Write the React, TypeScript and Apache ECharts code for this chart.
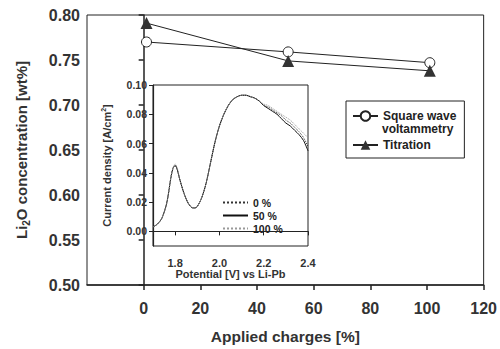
import React, { useEffect, useRef } from "react";
import * as echarts from "echarts";

// Main chart data
const charges = [1, 51, 101];
const squareWave = [0.770, 0.759, 0.747];
const titration = [0.791, 0.749, 0.738];
const mainXTicks = [0, 20, 40, 60, 80, 100, 120];

// Inset data (square wave voltammogram)
const potential = [1.70, 1.72, 1.74, 1.76, 1.77, 1.78, 1.79, 1.80, 1.81, 1.82, 1.84, 1.86, 1.88, 1.89, 1.90, 1.92, 1.94, 1.96, 1.98, 2.00, 2.02, 2.04, 2.06, 2.08, 2.10, 2.12, 2.14, 2.16, 2.18, 2.20, 2.22, 2.24, 2.26, 2.28, 2.30, 2.32, 2.34, 2.36, 2.38, 2.40];
const current0 = [0.003, 0.005, 0.009, 0.018, 0.026, 0.036, 0.043, 0.045, 0.042, 0.036, 0.026, 0.019, 0.016, 0.016, 0.017, 0.023, 0.033, 0.047, 0.061, 0.072, 0.080, 0.086, 0.090, 0.092, 0.093, 0.093, 0.092, 0.091, 0.089, 0.086, 0.085, 0.083, 0.081, 0.079, 0.076, 0.074, 0.071, 0.068, 0.064, 0.058];
const current50 = [0.003, 0.005, 0.009, 0.018, 0.026, 0.036, 0.043, 0.045, 0.042, 0.036, 0.026, 0.019, 0.016, 0.016, 0.017, 0.023, 0.033, 0.047, 0.061, 0.072, 0.080, 0.086, 0.090, 0.092, 0.093, 0.093, 0.092, 0.091, 0.089, 0.086, 0.084, 0.082, 0.080, 0.077, 0.074, 0.072, 0.069, 0.066, 0.062, 0.055];
const current100 = [0.003, 0.005, 0.009, 0.018, 0.026, 0.036, 0.043, 0.046, 0.043, 0.036, 0.026, 0.019, 0.016, 0.016, 0.017, 0.023, 0.033, 0.047, 0.061, 0.072, 0.080, 0.086, 0.090, 0.092, 0.093, 0.093, 0.092, 0.091, 0.089, 0.087, 0.086, 0.084, 0.082, 0.080, 0.078, 0.076, 0.073, 0.070, 0.067, 0.064];
const insetXTicks = [1.8, 2.0, 2.2, 2.4];
const insetYTicks = [0.0, 0.02, 0.04, 0.06, 0.08, 0.10];

const FONT = "'Liberation Sans', Arial, sans-serif";
const INK = "#222";

export default function App() {
  const ref = useRef<HTMLDivElement>(null);
  useEffect(() => {
    if (!ref.current) return;
    const chart = echarts.init(ref.current, undefined, { renderer: "svg" });
    const zip = (ys: number[]) => potential.map((x, i) => [x, ys[i]]);
    const option: any = {
      animation: false,
      backgroundColor: "#fff",
      textStyle: { fontFamily: FONT },
      grid: [
        { left: 87, right: 13, top: 15, bottom: 61, show: true, borderColor: INK, borderWidth: 1 },
        { left: 153, right: 192, top: 85, bottom: 103, show: true, borderColor: INK, borderWidth: 1, backgroundColor: "#fff" },
      ],
      xAxis: [
        {
          type: "value", gridIndex: 0, min: -20, max: 120, interval: 20,
          axisLine: { lineStyle: { color: INK, width: 1.5 } },
          axisTick: { show: true, length: 5, customValues: mainXTicks, lineStyle: { color: INK, width: 1.5 } },
          splitLine: { show: false },
          axisLabel: { customValues: mainXTicks, fontSize: 16, fontWeight: "bold", color: "#333", margin: 15, fontFamily: FONT },
          name: "Applied charges [%]", nameLocation: "middle", nameGap: 43,
          nameTextStyle: { fontSize: 15.5, fontWeight: "bold", color: "#333", fontFamily: FONT },
        },
        {
          type: "value", gridIndex: 1, min: 1.7, max: 2.4,
          axisLine: { lineStyle: { color: INK, width: 1.2 } },
          axisTick: { show: true, length: 4, customValues: insetXTicks, lineStyle: { color: INK } },
          splitLine: { show: false },
          axisLabel: { customValues: insetXTicks, formatter: (v: number) => v.toFixed(1), fontSize: 11, fontWeight: "bold", color: "#333", margin: 11, fontFamily: FONT },
          name: "Potential [V] vs Li-Pb", nameLocation: "middle", nameGap: 22,
          nameTextStyle: { fontSize: 11, fontWeight: "bold", color: "#333", fontFamily: FONT },
        },
      ],
      yAxis: [
        {
          type: "value", gridIndex: 0, min: 0.5, max: 0.8, interval: 0.05,
          axisLine: { show: true, lineStyle: { color: INK, width: 1.5 } },
          axisTick: { show: true, length: 5, lineStyle: { color: INK, width: 1.5 } },
          splitLine: { show: false },
          axisLabel: { formatter: (v: number) => v.toFixed(2), fontSize: 16, fontWeight: "bold", color: "#333", margin: 7, fontFamily: FONT },
          name: "{a|Li}{sub|2}{a|O concentration [wt%]}", nameLocation: "middle", nameGap: 56,
          nameTextStyle: {
            color: "#333",
            rich: {
              a: { fontSize: 15, fontWeight: "bold", color: "#333", lineHeight: 20, verticalAlign: "middle", fontFamily: FONT },
              sub: { fontSize: 10, fontWeight: "bold", color: "#333", lineHeight: 10, verticalAlign: "bottom", fontFamily: FONT },
            },
          },
        },
        {
          type: "value", gridIndex: 1, min: -0.01, max: 0.1,
          axisLine: { show: true, lineStyle: { color: INK, width: 1.2 } },
          axisTick: { show: true, length: 4, customValues: insetYTicks, lineStyle: { color: INK } },
          splitLine: { show: false },
          axisLabel: { customValues: insetYTicks, formatter: (v: number) => v.toFixed(2), fontSize: 10.5, fontWeight: "bold", color: "#333", margin: 6, fontFamily: FONT },
          name: "{a|Current density [A/cm}{sup|2}{a|]}", nameLocation: "middle", nameGap: 39,
          nameTextStyle: {
            color: "#333",
            rich: {
              a: { fontSize: 11, fontWeight: "bold", color: "#333", lineHeight: 14, verticalAlign: "middle", fontFamily: FONT },
              sup: { fontSize: 7, fontWeight: "bold", color: "#333", lineHeight: 7, verticalAlign: "top", fontFamily: FONT },
            },
          },
        },
      ],
      legend: [
        {
          data: ["Square wave", "Titration"], orient: "vertical", left: 346, top: 101,
          padding: [9, 8, 7, 6], itemWidth: 25, itemHeight: 12, itemGap: 17,
          borderColor: INK, borderWidth: 1, backgroundColor: "#fff",
          textStyle: { fontSize: 12, fontWeight: "bold", color: "#222", fontFamily: FONT },
        },
        {
          data: ["0 %", "50 %", "100 %"], orient: "vertical", left: 222, top: 197,
          padding: 0, itemWidth: 25, itemHeight: 10, itemGap: 2,
          itemStyle: { opacity: 0 },
          textStyle: { fontSize: 10.5, fontWeight: "bold", color: "#222", fontFamily: FONT },
        },
      ],
      graphic: [
        { type: "text", left: 382, top: 123, z: 100, style: { text: "voltammetry", fontSize: 12, fontWeight: "bold", fill: "#222", fontFamily: FONT } },
      ],
      series: [
        {
          name: "Square wave", type: "line", xAxisIndex: 0, yAxisIndex: 0,
          data: charges.map((x, i) => [x, squareWave[i]]),
          symbol: "circle", symbolSize: 10,
          itemStyle: { color: "#fff", borderColor: INK, borderWidth: 1 },
          lineStyle: { color: INK, width: 1 },
        },
        {
          name: "Titration", type: "line", xAxisIndex: 0, yAxisIndex: 0,
          data: charges.map((x, i) => [x, titration[i]]),
          symbol: "triangle", symbolSize: 12,
          itemStyle: { color: "#333" },
          lineStyle: { color: INK, width: 1 },
        },
        {
          name: "0 %", type: "line", xAxisIndex: 1, yAxisIndex: 1, data: zip(current0),
          symbol: "none", smooth: 0.3, lineStyle: { color: "#333", width: 1, type: "dotted" }, itemStyle: { color: "#333" },
        },
        {
          name: "50 %", type: "line", xAxisIndex: 1, yAxisIndex: 1, data: zip(current50),
          symbol: "none", smooth: 0.3, lineStyle: { color: "#111", width: 1, type: "solid" }, itemStyle: { color: "#111" },
        },
        {
          name: "100 %", type: "line", xAxisIndex: 1, yAxisIndex: 1, data: zip(current100),
          symbol: "none", smooth: 0.3, lineStyle: { color: "#999", width: 1, type: "dotted" }, itemStyle: { color: "#999" },
        },
      ],
    };
    chart.setOption(option);
    return () => chart.dispose();
  }, []);
  return <div ref={ref} style={{ width: 500, height: 349, position: "absolute", left: 0, top: 0 }} />;
}
